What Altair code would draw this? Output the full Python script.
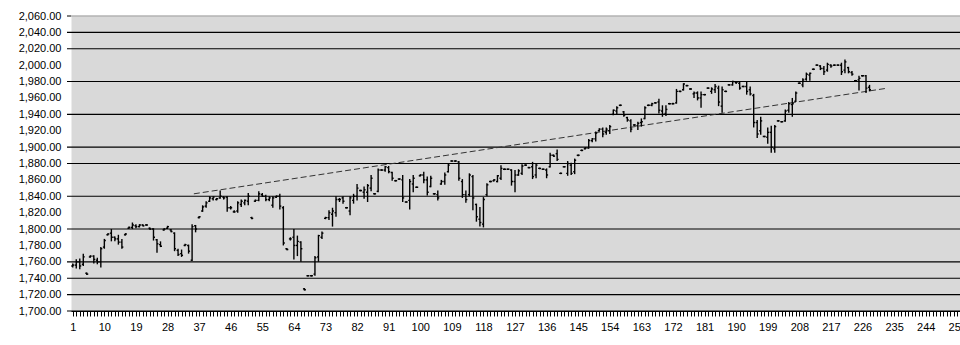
import altair as alt
import pandas as pd

# ---- data (OHLC, bars 1..228) ----
opens = [1755,1756,1760,1757,1746,1766,1767,1762,1760,1778,1793,1795,1790,1788,1784,1793,1801,1802,1804,1803,
         1805,1805,1801,1800,1787,1781,1799,1801,1799,1795,1774,1770,1780,1780,1762,1804,1814,1822,1828,1834,
         1837,1836,1838,1839,1839,1826,1821,1822,1830,1832,1834,1814,1834,1835,1842,1840,1836,1829,1839,1840,
         1826,1776,1788,1790,1780,1784,1727,1743,1743,1745,1766,1790,1813,1814,1818,1820,1836,1838,1826,1822,
         1835,1840,1847,1845,1845,1850,1843,1846,1872,1872,1875,1869,1859,1861,1860,1833,1835,1855,1851,1865,
         1866,1860,1852,1843,1842,1855,1858,1870,1883,1883,1882,1858,1842,1842,1864,1830,1812,1806,1842,1858,
         1859,1858,1862,1873,1873,1872,1858,1866,1868,1878,1875,1876,1866,1874,1873,1872,1876,1890,1892,1868,
         1876,1868,1878,1870,1890,1896,1898,1899,1908,1910,1920,1922,1918,1920,1940,1944,1951,1943,1936,1932,
         1927,1926,1930,1935,1951,1951,1954,1955,1944,1941,1953,1953,1954,1968,1970,1975,1971,1965,1966,1960,
         1964,1972,1968,1970,1972,1950,1968,1976,1976,1979,1978,1974,1974,1970,1963,1930,1920,1913,1912,1918,
         1898,1932,1931,1932,1945,1952,1956,1978,1976,1983,1988,1995,2000,1999,1996,1994,2000,2000,2000,2000,
         1994,1997,1991,1981,1982,1987,1987,1973]
highs = [1758,1763,1764,1770,1747,1768,1768,1765,1778,1788,1795,1800,1791,1793,1788,1795,1803,1808,1806,1806,
         1806,1806,1802,1801,1788,1785,1801,1804,1800,1796,1776,1775,1782,1781,1806,1805,1816,1829,1834,1840,
         1840,1838,1847,1840,1840,1828,1823,1834,1836,1836,1844,1815,1836,1846,1844,1842,1840,1840,1841,1843,
         1828,1777,1790,1800,1792,1785,1728,1744,1744,1767,1793,1797,1815,1823,1826,1840,1838,1840,1827,1840,
         1843,1855,1848,1852,1855,1866,1844,1874,1873,1877,1877,1870,1860,1862,1866,1834,1861,1866,1852,1867,
         1870,1864,1865,1844,1847,1860,1869,1880,1884,1884,1883,1861,1847,1868,1866,1831,1827,1839,1856,1859,
         1861,1866,1878,1874,1874,1873,1872,1873,1879,1879,1876,1882,1880,1875,1874,1874,1893,1891,1897,1869,
         1877,1883,1881,1886,1891,1897,1900,1910,1911,1919,1923,1924,1924,1927,1946,1950,1952,1944,1937,1934,
         1928,1931,1935,1950,1952,1954,1955,1959,1951,1951,1954,1954,1971,1969,1978,1976,1972,1968,1968,1968,
         1965,1973,1973,1977,1975,1974,1969,1977,1981,1980,1980,1975,1980,1974,1965,1933,1937,1914,1924,1926,
         1927,1933,1932,1946,1955,1960,1968,1979,1984,1991,1991,1996,2001,2000,1999,2003,2001,2001,2001,2003,
         2007,1998,1993,1982,1987,1988,1988,1976]
lows = [1753,1752,1751,1755,1744,1765,1758,1757,1753,1776,1792,1785,1785,1781,1776,1792,1800,1800,1801,1802,
        1803,1804,1799,1786,1771,1778,1798,1800,1796,1773,1767,1766,1779,1770,1761,1796,1813,1821,1826,1833,
        1835,1835,1837,1836,1821,1824,1820,1820,1827,1829,1829,1812,1833,1834,1839,1834,1834,1826,1838,1824,
        1780,1774,1786,1763,1767,1760,1725,1742,1742,1743,1760,1788,1812,1811,1803,1815,1833,1831,1825,1817,
        1831,1835,1846,1837,1833,1846,1842,1845,1871,1870,1868,1859,1858,1860,1833,1832,1824,1845,1850,1864,
        1856,1841,1851,1842,1835,1854,1854,1869,1882,1882,1859,1838,1832,1840,1823,1809,1803,1802,1840,1857,
        1858,1857,1860,1872,1872,1853,1845,1865,1866,1877,1874,1861,1862,1873,1872,1862,1875,1888,1883,1867,
        1875,1865,1866,1867,1889,1895,1897,1898,1906,1907,1919,1912,1915,1916,1939,1940,1950,1937,1931,1918,
        1926,1921,1925,1934,1950,1950,1953,1941,1937,1938,1952,1952,1953,1967,1969,1974,1970,1960,1957,1948,
        1963,1971,1965,1966,1950,1942,1967,1975,1975,1977,1970,1973,1964,1963,1924,1911,1915,1912,1904,1893,
        1893,1931,1930,1931,1942,1937,1955,1977,1973,1981,1981,1994,1999,1994,1988,1992,1997,1999,1999,1988,
        1990,1990,1987,1980,1969,1986,1966,1968]
closes = [1756,1760,1755,1766,1745,1767,1763,1760,1776,1786,1794,1790,1788,1784,1778,1794,1802,1805,1803,1805,
          1804,1805,1800,1790,1782,1779,1800,1803,1797,1776,1769,1768,1781,1773,1803,1800,1815,1827,1832,1838,
          1839,1837,1840,1838,1826,1826,1821,1832,1834,1835,1840,1813,1835,1843,1840,1836,1838,1838,1840,1828,
          1783,1775,1788,1780,1785,1776,1726,1743,1743,1765,1792,1795,1814,1820,1822,1836,1836,1834,1826,1838,
          1840,1850,1847,1848,1853,1862,1843,1872,1872,1876,1870,1862,1859,1861,1838,1833,1858,1862,1851,1866,
          1860,1845,1862,1843,1838,1858,1866,1878,1883,1883,1862,1842,1836,1866,1838,1815,1808,1836,1854,1858,
          1860,1865,1874,1873,1873,1858,1866,1871,1877,1878,1875,1864,1878,1874,1873,1866,1890,1889,1885,1868,
          1876,1880,1868,1884,1890,1896,1899,1908,1910,1917,1922,1916,1922,1925,1945,1948,1951,1939,1933,1922,
          1927,1929,1931,1948,1951,1953,1954,1945,1940,1946,1953,1953,1968,1968,1977,1975,1971,1966,1960,1964,
          1964,1972,1971,1974,1955,1970,1968,1976,1980,1979,1972,1974,1968,1965,1930,1916,1932,1913,1918,1900,
          1925,1932,1931,1944,1953,1953,1966,1978,1982,1989,1990,1995,2000,1996,1992,2001,1999,2000,2000,1992,
          2004,1992,1989,1981,1984,1987,1972,1970]
bar_index = list(range(1, len(closes) + 1))

grid_values = [2040, 2020, 1980, 1940, 1900, 1880, 1840, 1800, 1760, 1740, 1720, 1700]
y_ticks = list(range(1700, 2061, 20))
x_ticks = list(range(1, 254))

trend_x = [35.5, 233.2]
trend_y = [1843, 1972]

# ---- chart ----
W, H = 889, 295
FONT = "Liberation Sans"

df = pd.DataFrame({"i": bar_index, "open": opens, "high": highs, "low": lows, "close": closes})
grid_df = pd.DataFrame({"v": grid_values})
top_df = pd.DataFrame({"v": [2060]})
trend_df = pd.DataFrame({"x": trend_x, "y": trend_y})

xs = alt.Scale(domain=[0.5, 0.5 + W / 3.51], nice=False, zero=False)
ys = alt.Scale(domain=[1700, 2060], nice=False, zero=False)

y_axis = alt.Axis(values=y_ticks, format=",.2f", ticks=False, domain=False, grid=False,
                  labelFont=FONT, labelFontSize=11, labelColor="black", labelPadding=10,
                  title=None)
x_axis = alt.Axis(values=x_ticks,
                  labelExpr="(datum.value - 1) % 9 == 0 ? toString(datum.value) : ''",
                  labelOverlap=False, labelFlush=False, grid=False,
                  domain=True, domainColor="black", domainWidth=1,
                  ticks=True, tickColor="black", tickSize=5, tickWidth=1,
                  labelFont=FONT, labelFontSize=11, labelColor="black", labelPadding=5,
                  title=None)


def X(field):
    return alt.X(field, scale=xs, axis=x_axis)


def Y(field):
    return alt.Y(field, scale=ys, axis=y_axis)


grid = alt.Chart(grid_df).mark_rule(color="black", strokeWidth=1.1).encode(
    y=Y("v:Q"), x=alt.value(-4), x2=alt.value(W))

top_gray = alt.Chart(top_df).mark_rule(color="#8c8c8c", strokeWidth=1).encode(
    y=Y("v:Q"), x=alt.value(0), x2=alt.value(W))
top_tick = alt.Chart(top_df).mark_rule(color="black", strokeWidth=1).encode(
    y=Y("v:Q"), x=alt.value(-4), x2=alt.value(0))

hl = alt.Chart(df).mark_rule(color="black", strokeWidth=1.4).encode(
    x=X("i:Q"), y=Y("low:Q"), y2="high:Q")

open_t = alt.Chart(df).transform_calculate(xl="datum.i - 0.42").mark_rule(
    color="black", strokeWidth=1.4).encode(
    x=X("xl:Q"), x2="i:Q", y=Y("open:Q"))

close_t = alt.Chart(df).transform_calculate(xr="datum.i + 0.42").mark_rule(
    color="black", strokeWidth=1.4).encode(
    x=X("i:Q"), x2="xr:Q", y=Y("close:Q"))

trend = alt.Chart(trend_df).mark_line(color="#333333", strokeWidth=1, strokeDash=[6, 3]).encode(
    x=X("x:Q"), y=Y("y:Q"))

chart = alt.layer(grid, top_gray, top_tick, trend, hl, open_t, close_t).properties(
    width=W, height=H,
    autosize=alt.AutoSizeParams(type="none"),
    padding={"left": 71, "top": 16, "right": 0, "bottom": 34},
    background="white",
).configure_view(fill="#d9d9d9", stroke="transparent")

chart.save("out.html", embed_options={"renderer": "svg", "actions": False})
